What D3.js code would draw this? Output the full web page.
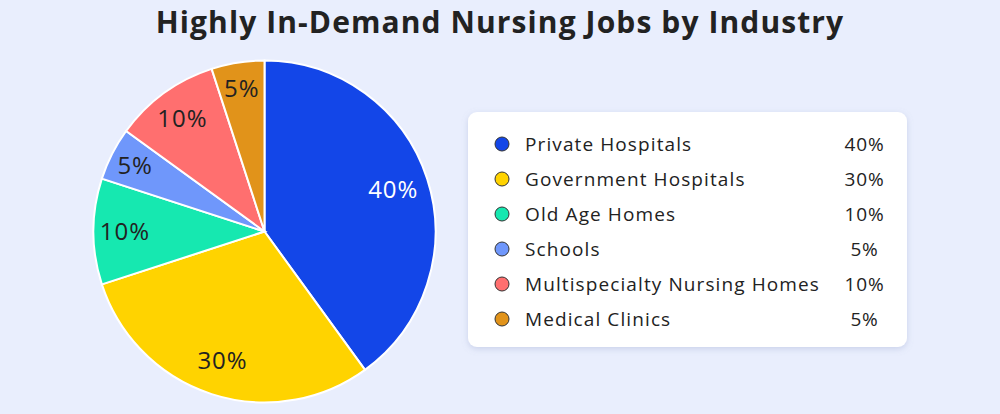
<!DOCTYPE html>
<html><head><meta charset="utf-8">
<script src="https://cdn.jsdelivr.net/npm/d3@7"></script>
<style>body{margin:0;background:#e9eefd;}svg{display:block;font-family:"Open Sans",sans-serif;}</style>
</head><body><svg id="c" width="1000" height="414"></svg>
<script>
const categories = ["Private Hospitals","Government Hospitals","Old Age Homes","Schools","Multispecialty Nursing Homes","Medical Clinics"];
const values = [40,30,10,5,10,5];
const colors = ["#1346e8","#ffd300","#16e8b0","#6f97fb","#ff6f6f","#e1931a"];
const labelColors = ["#ffffff","#222","#222","#222","#222","#222"];
const title = "Highly In-Demand Nursing Jobs by Industry";

const svg = d3.select("#c");
svg.append("rect").attr("width",1000).attr("height",414).attr("fill","#e9eefd");
svg.append("text").attr("x",500).attr("y",33).attr("text-anchor","middle")
  .attr("font-size",30).attr("font-weight",700).attr("letter-spacing",1.1).attr("fill","#222").text(title);

const cx=264.5, cy=231.5, R=171;
const data = categories.map((c,i)=>({c,v:values[i],col:colors[i],lc:labelColors[i]}));
const pie = d3.pie().sort(null).value(d=>d.v);
const arc = d3.arc().innerRadius(0).outerRadius(R);
const g = svg.append("g").attr("transform",`translate(${cx},${cy})`);
const arcs = pie(data);
// label radius grows slightly for narrow slices
const lr = d => 134 + 3.5/(d.endAngle-d.startAngle);
g.selectAll("path").data(arcs).join("path").attr("d",arc).attr("fill",d=>d.data.col)
  .attr("stroke","#fff").attr("stroke-width",2);
g.selectAll("text").data(arcs).join("text")
  .attr("transform",d=>{const a=(d.startAngle+d.endAngle)/2, r=lr(d);return `translate(${r*Math.sin(a)},${-r*Math.cos(a)})`;})
  .attr("text-anchor","middle").attr("dy","0.35em").attr("font-size",24).attr("letter-spacing",1)
  .attr("fill",d=>d.data.lc).text(d=>d.data.v+"%");

const defs = svg.append("defs");
const f = defs.append("filter").attr("id","sh").attr("x","-10%").attr("y","-10%").attr("width","120%").attr("height","130%");
f.append("feDropShadow").attr("dx",0).attr("dy",2).attr("stdDeviation",3).attr("flood-color","#8090c0").attr("flood-opacity",0.3);
svg.append("rect").attr("x",468).attr("y",112).attr("width",439).attr("height",235).attr("rx",9)
  .attr("fill","#fff").attr("filter","url(#sh)");
const y = d3.scalePoint().domain(categories).range([144,319]);
const lg = svg.append("g").selectAll("g").data(data).join("g").attr("transform",d=>`translate(0,${y(d.c)})`);
lg.append("circle").attr("cx",502).attr("cy",0).attr("r",7).attr("fill",d=>d.col).attr("stroke","#333").attr("stroke-width",1);
lg.append("text").attr("x",525).attr("dy","0.35em").attr("font-size",19).attr("letter-spacing",1.1).attr("fill","#222").text(d=>d.c);
lg.append("text").attr("x",864.5).attr("dy","0.35em").attr("text-anchor","middle").attr("font-size",19).attr("letter-spacing",0.8).attr("fill","#222").text(d=>d.v+"%");
</script></body></html>
